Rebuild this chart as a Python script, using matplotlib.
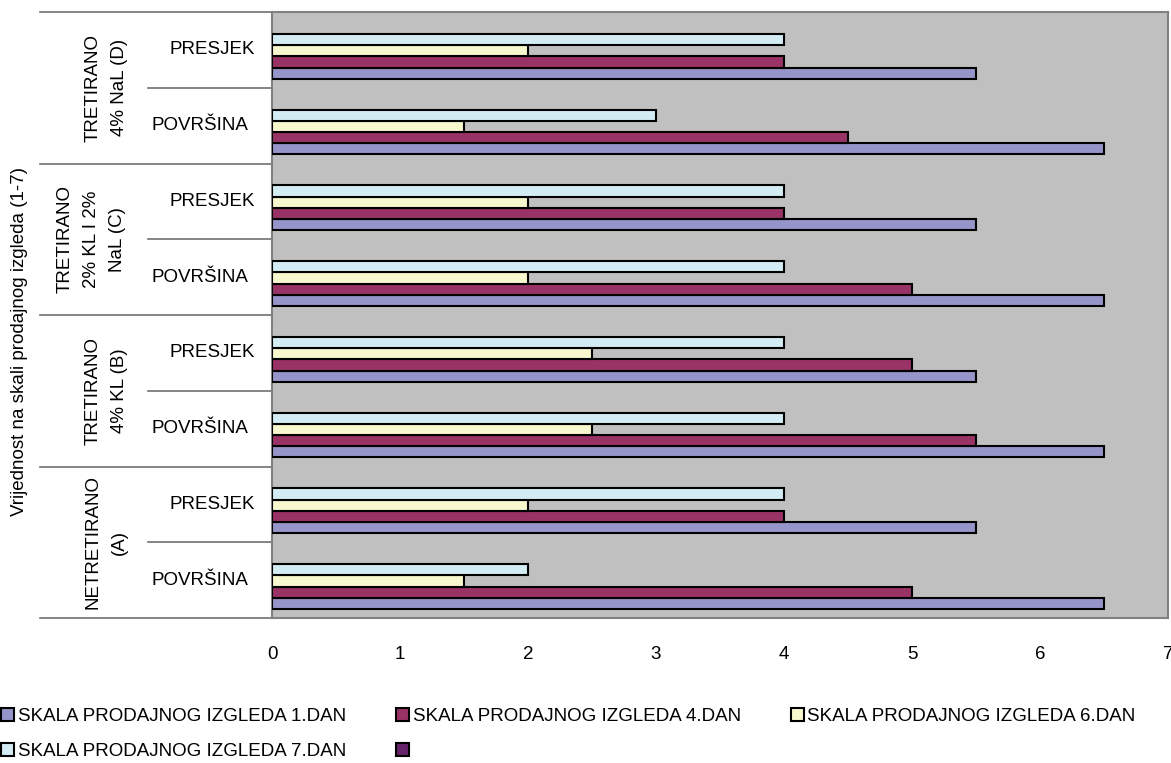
import numpy as np
import matplotlib
matplotlib.use("Agg")
import matplotlib.pyplot as plt
from matplotlib.patches import Patch
from matplotlib.transforms import blended_transform_factory

plt.rcParams["font.family"] = ["Liberation Sans", "DejaVu Sans"]

# categories bottom to top
groups = ["NETRETIRANO\n(A)", "TRETIRANO\n4% KL (B)", "TRETIRANO\n2% KL I 2%\nNaL (C)", "TRETIRANO\n4% NaL (D)"]
parts = ["POVRŠINA", "PRESJEK"]

series_names = ["SKALA PRODAJNOG IZGLEDA 1.DAN", "SKALA PRODAJNOG IZGLEDA 4.DAN",
                "SKALA PRODAJNOG IZGLEDA 6.DAN", "SKALA PRODAJNOG IZGLEDA 7.DAN"]
dan1 = [6.5, 5.5, 6.5, 5.5, 6.5, 5.5, 6.5, 5.5]
dan4 = [5.0, 4.0, 5.5, 5.0, 5.0, 4.0, 4.5, 4.0]
dan6 = [1.5, 2.0, 2.5, 2.5, 2.0, 2.0, 1.5, 2.0]
dan7 = [2.0, 4.0, 4.0, 4.0, 4.0, 4.0, 3.0, 4.0]
colors = ["#9595C9", "#993366", "#F8F8CE", "#D3ECF3"]
extra_color = "#66226B"

FS = 13.5
W, H = 1171, 763
fig = plt.figure(figsize=(W / 100, H / 100), dpi=100)
ax = fig.add_axes([272 / W, 1 - 618 / H, 896 / W, 606 / H])
ax.set_facecolor("#C0C0C0")

n = len(dan1)
y = np.arange(n)
bh = 0.148
shift = -0.085
for i, vals in enumerate([dan1, dan4, dan6, dan7]):
    ax.barh(y + shift + (i - 1.5) * bh, vals, height=bh, color=colors[i],
            edgecolor="black", linewidth=1.5, label=series_names[i], zorder=3)

ax.set_xlim(0, 7)
ax.set_ylim(-0.5, n - 0.5)
ax.set_xticks(range(8))
ax.set_yticks([])
ax.tick_params(axis="x", length=0, pad=20, labelsize=FS)
for s in ax.spines.values():
    s.set_color("#808080")
    s.set_linewidth(1.5)

# multi-level category labels on the left
tr = blended_transform_factory(fig.transFigure, ax.transData)
x_left, x_mid, x_axis = 40 / W, 148 / W, 272 / W
for k in range(n + 1):
    yy = k - 0.5
    x0 = x_left if k % 2 == 0 else x_mid
    ax.plot([x0, x_axis], [yy, yy], transform=tr, color="#707070", lw=1.2, clip_on=False)
part_x = {"POVRŠINA": 200, "PRESJEK": 212}
for k in range(n):
    name = parts[k % 2]
    ax.text(part_x[name] / W, k, name, transform=tr, ha="center", va="center", fontsize=FS)
for g, name in enumerate(groups):
    gx = 91 if name.count("\n") == 2 else 106.5
    ax.text(gx / W, 2 * g + 0.5, name, transform=tr, rotation=90, ha="center",
            va="center", fontsize=FS, linespacing=1.72)

fig.text(20 / W, 1 - 342 / H, "Vrijednost na skali prodajnog izgleda (1-7)",
         rotation=90, ha="center", va="center", fontsize=FS)

# legend filled row by row: 1, 4, 6 / 7, (empty)
handles = [Patch(facecolor=c, edgecolor="black", linewidth=1.5) for c in colors]
handles.append(Patch(facecolor=extra_color, edgecolor="black", linewidth=1.5))
labels = series_names + [""]
order = [0, 3, 1, 4, 2]
fig.legend([handles[i] for i in order], [labels[i] for i in order], loc="upper left",
           bbox_to_anchor=(1 / W, 1 - 708 / H), ncol=3, frameon=False, fontsize=FS,
           handlelength=0.7, handleheight=0.7, handletextpad=0.2, columnspacing=2.65,
           labelspacing=0.95, borderpad=0, borderaxespad=0)

fig.savefig("out.png", dpi=100)
